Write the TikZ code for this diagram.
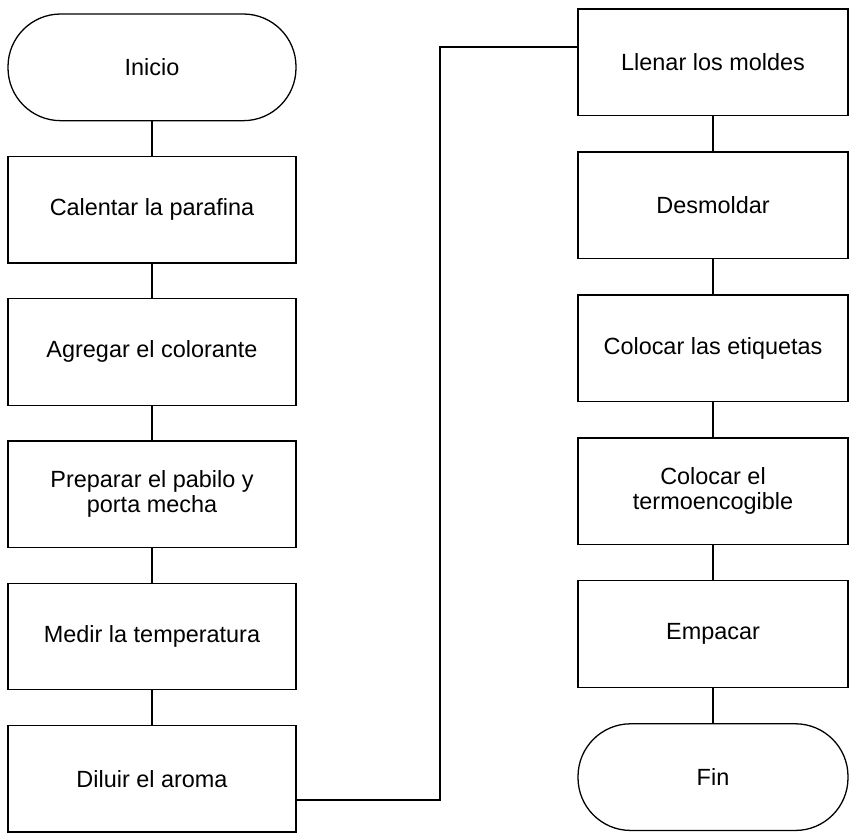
\documentclass[tikz,border=0pt]{standalone}
\usepackage{fontspec}
\setmainfont{Liberation Sans}
\usepackage{tikz}
\usetikzlibrary{positioning,calc}
\tikzstyle{stepnode} = [rectangle, minimum width=8.64cm, minimum height=3.2cm, text centered, align=center, draw=black, line width=1.1pt, font=\fontsize{20}{21}\selectfont]
\tikzstyle{endnode} = [stepnode, rounded corners=1.58cm]
\tikzstyle{link} = [line width=1pt]

\begin{document}
\begin{tikzpicture}[node distance=1.03cm]
\useasboundingbox (0,0) rectangle (25.5,-24.96);

% Left column
\node[endnode] (inicio) at (4.56,-2.02) {Inicio};
\node[stepnode, below=of inicio] (calentar) {Calentar la parafina};
\node[stepnode, below=of calentar] (agregar) {Agregar el colorante};
\node[stepnode, below=of agregar] (preparar) {Preparar el pabilo y\\porta mecha};
\node[stepnode, below=of preparar] (medir) {Medir la temperatura};
\node[stepnode, below=of medir] (diluir) {Diluir el aroma};

% Right column
\node[stepnode, minimum width=8.1cm] (llenar) at (21.39,-1.87) {Llenar los moldes};
\node[stepnode, minimum width=8.1cm, below=1.05cm of llenar] (desmoldar) {Desmoldar};
\node[stepnode, minimum width=8.1cm, below=1.05cm of desmoldar] (etiquetas) {Colocar las etiquetas};
\node[stepnode, minimum width=8.1cm, below=1.05cm of etiquetas] (termo) {Colocar el\\termoencogible};
\node[stepnode, minimum width=8.1cm, below=1.05cm of termo] (empacar) {Empacar};
\node[endnode, minimum width=8.1cm, below=1.05cm of empacar] (fin) {Fin};

\draw[link] (inicio) -- (calentar);
\draw[link] (calentar) -- (agregar);
\draw[link] (agregar) -- (preparar);
\draw[link] (preparar) -- (medir);
\draw[link] (medir) -- (diluir);
\draw[link, line width=1.6pt] ([yshift=-0.64cm]diluir.east) -- ++(4.29,0) |- ([yshift=0.46cm]llenar.west);
\draw[link] (llenar) -- (desmoldar);
\draw[link] (desmoldar) -- (etiquetas);
\draw[link] (etiquetas) -- (termo);
\draw[link] (termo) -- (empacar);
\draw[link] (empacar) -- (fin);
\end{tikzpicture}
\end{document}
